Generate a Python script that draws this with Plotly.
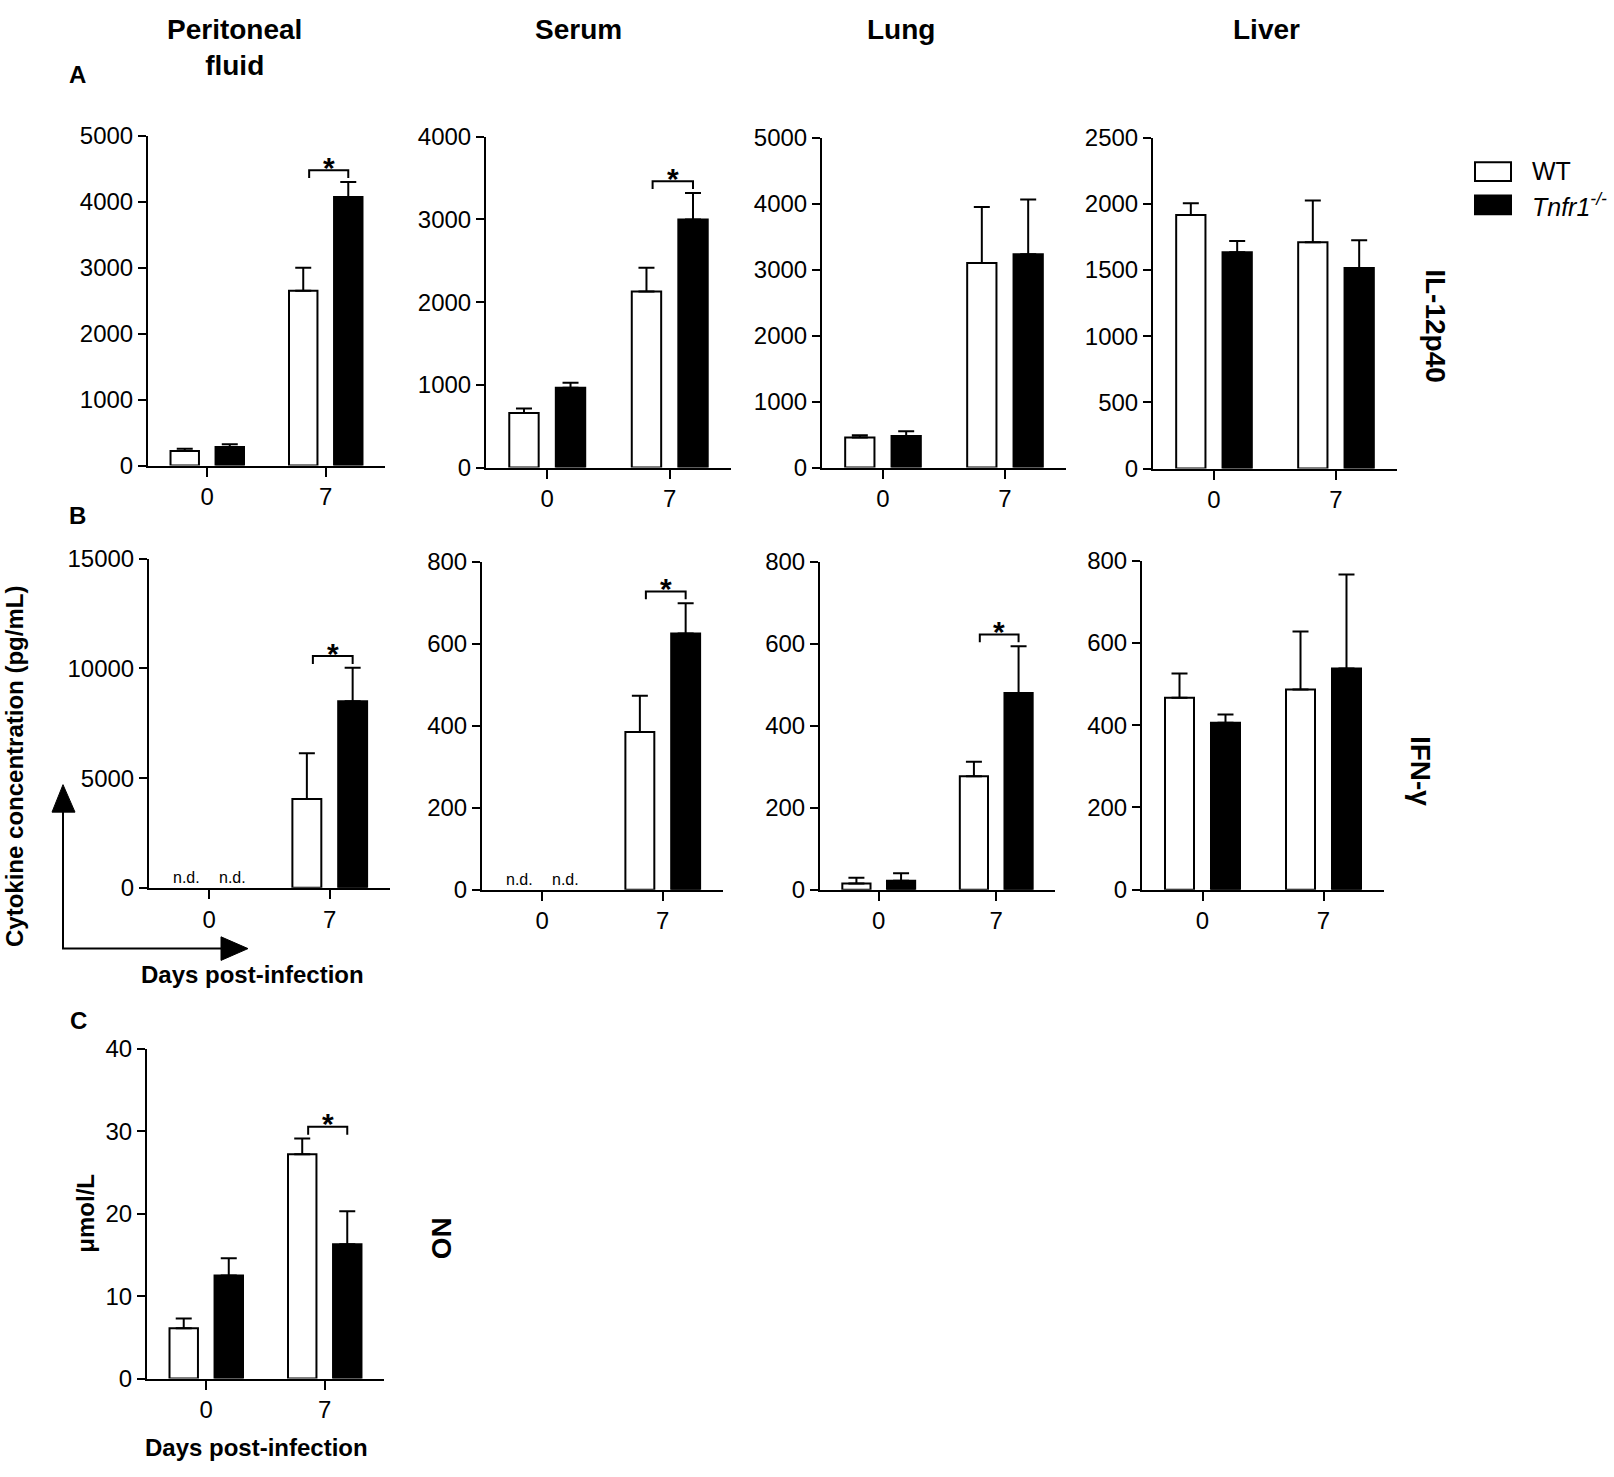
import plotly.graph_objects as go

W, H = 1614, 1477
FONT = "Liberation Sans, Arial, sans-serif"

# ---- data (mean, upper SEM) ----
days = ["0", "7"]
organs = ["Peritoneal<br>fluid", "Serum", "Lung", "Liver"]

# IL-12p40 (pg/mL)
il12_perit_wt, il12_perit_wt_err = [220, 2650], [35, 350]
il12_perit_ko, il12_perit_ko_err = [280, 4070], [45, 230]
il12_serum_wt, il12_serum_wt_err = [660, 2130], [55, 285]
il12_serum_ko, il12_serum_ko_err = [965, 3000], [60, 320]
il12_lung_wt, il12_lung_wt_err = [455, 3100], [35, 850]
il12_lung_ko, il12_lung_ko_err = [480, 3235], [70, 830]
il12_liver_wt, il12_liver_wt_err = [1915, 1710], [90, 315]
il12_liver_ko, il12_liver_ko_err = [1635, 1515], [85, 210]

# IFN-gamma (pg/mL); None = not detected
ifn_perit_wt, ifn_perit_wt_err = [None, 4050], [0, 2080]
ifn_perit_ko, ifn_perit_ko_err = [None, 8500], [0, 1530]
ifn_serum_wt, ifn_serum_wt_err = [None, 385], [0, 88]
ifn_serum_ko, ifn_serum_ko_err = [None, 625], [0, 74]
ifn_lung_wt, ifn_lung_wt_err = [15, 277], [14, 35]
ifn_lung_ko, ifn_lung_ko_err = [22, 480], [18, 114]
ifn_liver_wt, ifn_liver_wt_err = [467, 487], [59, 141]
ifn_liver_ko, ifn_liver_ko_err = [406, 538], [20, 229]

# NO in peritoneal fluid (umol/L)
no_perit_wt, no_perit_wt_err = [6.1, 27.2], [1.2, 1.9]
no_perit_ko, no_perit_ko_err = [12.5, 16.3], [2.1, 4.0]

# y ticks per panel
ticks_il12_perit = [0, 1000, 2000, 3000, 4000, 5000]
ticks_il12_serum = [0, 1000, 2000, 3000, 4000]
ticks_il12_lung = [0, 1000, 2000, 3000, 4000, 5000]
ticks_il12_liver = [0, 500, 1000, 1500, 2000, 2500]
ticks_ifn_perit = [0, 5000, 10000, 15000]
ticks_ifn_other = [0, 200, 400, 600, 800]
ticks_no = [0, 10, 20, 30, 40]

panels = [
    (il12_perit_wt, il12_perit_wt_err, il12_perit_ko, il12_perit_ko_err, ticks_il12_perit, [1]),
    (il12_serum_wt, il12_serum_wt_err, il12_serum_ko, il12_serum_ko_err, ticks_il12_serum, [1]),
    (il12_lung_wt, il12_lung_wt_err, il12_lung_ko, il12_lung_ko_err, ticks_il12_lung, []),
    (il12_liver_wt, il12_liver_wt_err, il12_liver_ko, il12_liver_ko_err, ticks_il12_liver, []),
    (ifn_perit_wt, ifn_perit_wt_err, ifn_perit_ko, ifn_perit_ko_err, ticks_ifn_perit, [1]),
    (ifn_serum_wt, ifn_serum_wt_err, ifn_serum_ko, ifn_serum_ko_err, ticks_ifn_other, [1]),
    (ifn_lung_wt, ifn_lung_wt_err, ifn_lung_ko, ifn_lung_ko_err, ticks_ifn_other, [1]),
    (ifn_liver_wt, ifn_liver_wt_err, ifn_liver_ko, ifn_liver_ko_err, ticks_ifn_other, []),
    (no_perit_wt, no_perit_wt_err, no_perit_ko, no_perit_ko_err, ticks_no, [1]),
]

# plot boxes in pixels: left, top, right, bottom
boxes = [
    (148, 124, 385, 460), (486, 125, 731, 462), (822, 126, 1066, 462), (1153, 126, 1397, 463),
    (149, 555, 390, 890), (482, 558, 723, 892), (820, 558, 1055, 892), (1142, 557, 1384, 892),
    (147, 1054, 384, 1390),
]


def fx(x):
    return x / W


def fy(y):
    return 1 - y / H


BAR_W = 0.24
WT_OFF, KO_OFF = -0.31, 0.07

fig = go.Figure()
shapes, annotations = [], []
layout_axes = {}

for i, (wt, wt_err, ko, ko_err, yticks, sig) in enumerate(panels):
    n = i + 1
    xa = "x" if n == 1 else f"x{n}"
    ya = "y" if n == 1 else f"y{n}"
    left, top, right, bottom = boxes[i]
    ymax = yticks[-1]

    for vals, errs, fill, off in [(wt, wt_err, "white", WT_OFF), (ko, ko_err, "black", KO_OFF)]:
        fig.add_trace(go.Bar(
            x=[0, 1], y=vals, width=BAR_W, offset=off,
            marker=dict(color=fill, line=dict(color="black", width=2)),
            error_y=dict(type="data", symmetric=False, array=errs, arrayminus=[0, 0],
                         color="black", thickness=2, width=8),
            xaxis=xa, yaxis=ya, showlegend=False, hoverinfo="skip",
        ))

    # n.d. labels
    for vals, off in [(wt, WT_OFF), (ko, KO_OFF)]:
        for d, v in enumerate(vals):
            if v is None:
                annotations.append(dict(
                    x=d + off + BAR_W / 2, y=0, xref=xa, yref=ya, text="n.d.",
                    showarrow=False, xanchor="center", yanchor="bottom", yshift=0,
                    font=dict(family=FONT, size=16, color="black")))

    # significance brackets
    unit = ymax / (bottom - top)
    for d in sig:
        tops = [v + e for v, e in [(wt[d], wt_err[d]), (ko[d], ko_err[d])] if v is not None]
        yb = max(tops) + 12 * unit
        x0 = d + WT_OFF + BAR_W / 2 + 0.05
        x1 = d + KO_OFF + BAR_W / 2
        shapes.append(dict(type="path", xref=xa, yref=ya,
                           path=f"M{x0},{yb - 8 * unit} L{x0},{yb} L{x1},{yb} L{x1},{yb - 8 * unit}",
                           line=dict(color="black", width=2)))
        annotations.append(dict(x=(x0 + x1) / 2, y=yb, xref=xa, yref=ya, text="<b>*</b>",
                                showarrow=False, xanchor="center", yanchor="middle", yshift=3,
                                font=dict(family=FONT, size=30, color="black")))

    layout_axes["xaxis" if n == 1 else f"xaxis{n}"] = dict(
        domain=[fx(left), fx(right)], anchor=ya, range=[-0.5, 1.5],
        tickvals=[0, 1], ticktext=days, showline=True, linecolor="black", linewidth=2,
        ticks="outside", ticklen=9, tickwidth=2, tickcolor="black",
        showgrid=False, zeroline=False, tickfont=dict(family=FONT, size=24, color="black"))
    layout_axes["yaxis" if n == 1 else f"yaxis{n}"] = dict(
        domain=[fy(bottom), fy(top)], anchor=xa, range=[0, ymax],
        tickvals=yticks, tickformat="d", showline=True, linecolor="black", linewidth=2,
        ticks="outside", ticklen=8, tickwidth=2, tickcolor="black",
        showgrid=False, zeroline=False, tickfont=dict(family=FONT, size=24, color="black"))


def text(x, y, s, size, angle=0, bold=True, xanchor="center"):
    annotations.append(dict(x=fx(x), y=fy(y), xref="paper", yref="paper",
                            text=f"<b>{s}</b>" if bold else s, showarrow=False,
                            xanchor=xanchor, yanchor="middle",
                            textangle=angle, font=dict(family=FONT, size=size, color="black")))


# column titles
for s, cx, cy in zip(organs, [235, 578, 901, 1266], [34, 16, 16, 16]):
    text(cx, cy, s, 28)

# panel letters
text(77, 62, "A", 24)
text(77, 511, "B", 24)
text(78, 1025, "C", 24)

# row labels
text(1436, 318, "IL-12p40", 28, angle=90)
text(1420, 771, "IFN-γ", 28, angle=90)
text(442, 1247, "NO", 28, angle=90)

# axis titles
text(15, 767, "Cytokine concentration (pg/mL)", 24, angle=-90)
text(252, 978, "Days post-infection", 24)
text(86, 1222, "μmol/L", 24, angle=-90)
text(256, 1460, "Days post-infection", 24)

# axis arrows in panel B
shapes.append(dict(type="line", xref="paper", yref="paper", x0=fx(63), y0=fy(952), x1=fx(63), y1=fy(810),
                   line=dict(color="black", width=2)))
shapes.append(dict(type="path", xref="paper", yref="paper", fillcolor="black", line=dict(color="black", width=1),
                   path=f"M{fx(63)},{fy(785)} L{fx(52)},{fy(813)} L{fx(75)},{fy(813)} Z"))
shapes.append(dict(type="line", xref="paper", yref="paper", x0=fx(62), y0=fy(952), x1=fx(224), y1=fy(952),
                   line=dict(color="black", width=2)))
shapes.append(dict(type="path", xref="paper", yref="paper", fillcolor="black", line=dict(color="black", width=1),
                   path=f"M{fx(248)},{fy(952)} L{fx(221)},{fy(940)} L{fx(221)},{fy(964)} Z"))

# legend
shapes.append(dict(type="rect", xref="paper", yref="paper", x0=fx(1475), y0=fy(151), x1=fx(1511), y1=fy(170),
                   fillcolor="white", line=dict(color="black", width=2)))
shapes.append(dict(type="rect", xref="paper", yref="paper", x0=fx(1475), y0=fy(185), x1=fx(1511), y1=fy(204),
                   fillcolor="black", line=dict(color="black", width=2)))
text(1530, 160, "WT", 25, bold=False, xanchor="left")
text(1530, 195, "<i>Tnfr1<sup>-/-</sup></i>", 25, bold=False, xanchor="left")

fig.update_layout(
    width=W, height=H, margin=dict(l=0, r=0, t=0, b=0),
    paper_bgcolor="white", plot_bgcolor="white", barmode="overlay",
    shapes=shapes, annotations=annotations, **layout_axes,
)

fig.write_html("out.html", config={"displayModeBar": False},
               post_script="document.body.style.margin='0';")
